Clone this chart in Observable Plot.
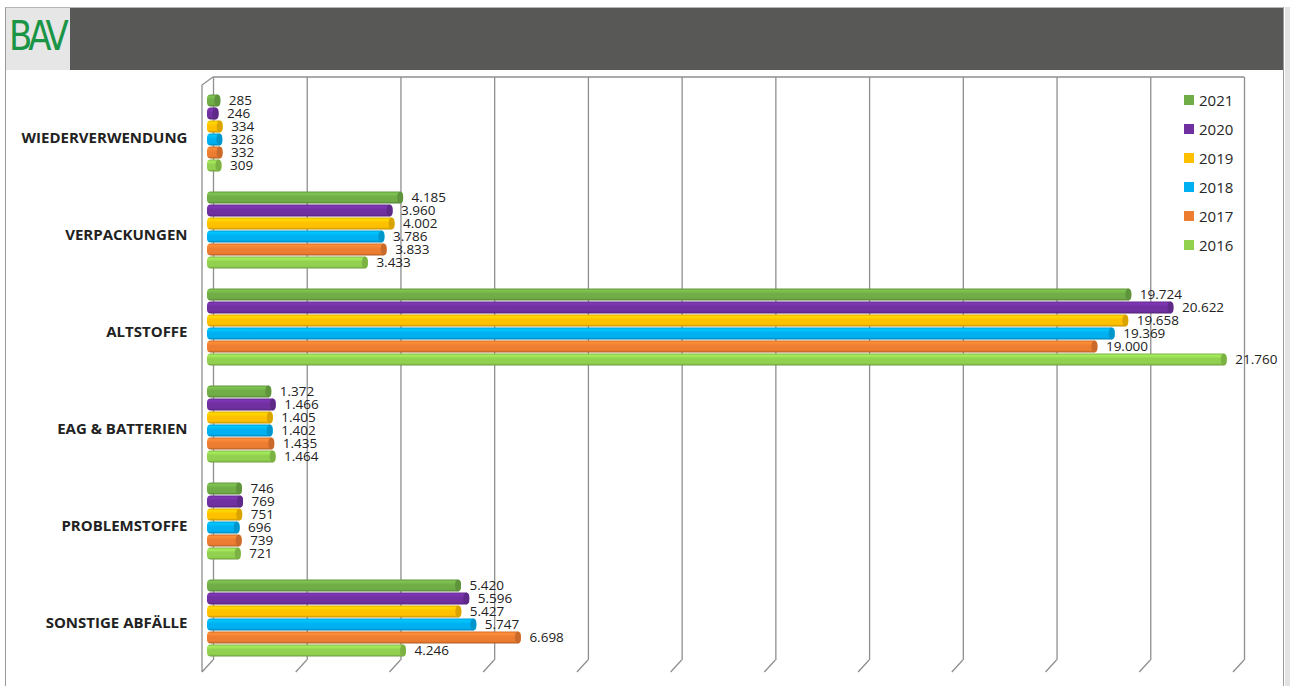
<!DOCTYPE html>
<html><head><meta charset="utf-8">
<script src="https://cdn.jsdelivr.net/npm/d3@7"></script>
<script src="https://cdn.jsdelivr.net/npm/@observablehq/plot@0.6"></script>
<style>
body{margin:0;background:#fff;font-family:"Open Sans",sans-serif;}
#wrap{position:relative;width:1290px;height:686px;overflow:hidden;background:#fff;}
#border{position:absolute;left:5px;top:7px;width:1277px;height:700px;border-left:1.5px solid #9a9a9a;border-top:1.5px solid #b5b5b5;border-right:1.5px solid #9a9a9a;}
#rband{position:absolute;left:1285px;top:7px;width:5px;height:686px;background:#e3e3e3;}
#header{position:absolute;left:6px;top:8px;width:1277px;height:62px;background:#585857;}
#logo{position:absolute;left:6px;top:8px;width:64px;height:62px;background:#e6e6e6;overflow:hidden;}
#logo span{position:absolute;left:3px;top:4px;font-family:"DejaVu Sans",sans-serif;font-size:34px;color:#1a9445;letter-spacing:-4px;transform:scaleY(1.2);transform-origin:0 0;}
.layer{position:absolute;left:0;top:70px;}
#legend{position:absolute;left:1184px;top:85px;}
#legend .row{display:flex;align-items:center;height:29px;}
#legend .sw{width:10px;height:10px;margin-right:5px;}
#legend .lb{font-size:15px;color:#262626;font-family:"Open Sans",sans-serif;}
</style>
</head><body>
<div id="wrap">
  <div id="border"></div>
  <div id="rband"></div>
  <div id="header"></div>
  <div id="logo"><span>BAV</span></div>
  <div id="l1" class="layer"></div>
  <div id="l2" class="layer"></div>
  <div id="legend"></div>
</div>
<script>
const categories = ["WIEDERVERWENDUNG","VERPACKUNGEN","ALTSTOFFE","EAG & BATTERIEN","PROBLEMSTOFFE","SONSTIGE ABFÄLLE"];
const years = ["2021","2020","2019","2018","2017","2016"];
const colors = ["#70AD47","#7030A0","#FFC000","#00B0F0","#ED7D31","#92D050"];
const v2021 = [285, 4185, 19724, 1372, 746, 5420];
const v2020 = [246, 3960, 20622, 1466, 769, 5596];
const v2019 = [334, 4002, 19658, 1405, 751, 5427];
const v2018 = [326, 3786, 19369, 1402, 696, 5747];
const v2017 = [332, 3833, 19000, 1435, 739, 6698];
const v2016 = [309, 3433, 21760, 1464, 721, 4246];
const gridTicks = [0,2000,4000,6000,8000,10000,12000,14000,16000,18000,20000,22000];

const series = [v2021, v2020, v2019, v2018, v2017, v2016];
const data = [];
categories.forEach((c, i) => years.forEach((y, j) => data.push({category: c, year: y, value: series[j][i]})));

const fmt = d3.formatLocale({decimal: ",", thousands: ".", grouping: [3], currency: ["", "€"]}).format(",");

// Layer 1: 3D wall / grid
function frameMark(index, scales, values, dims) {
  const x = scales.x;
  const top = dims.marginTop, bot = dims.height - dims.marginBottom;
  const back = 6, front = -5, depth = 12;
  const x0 = x(gridTicks[0]), x1 = x(gridTicks[gridTicks.length - 1]);
  let d = `M${x0 + back},${top}H${x1 + back}`;
  d += `M${x0 + back},${top}L${x0 + front},${top + 8}V${bot + depth}`;
  for (const t of gridTicks) d += `M${x(t) + back},${bot}L${x(t) + front},${bot + depth}`;
  const g = d3.create("svg:g");
  g.append("path").attr("d", d).attr("fill", "none").attr("stroke", "#8f8f8f").attr("stroke-width", 1.3);
  return g.node();
}
const frame = Plot.plot({
  width: 1290, height: 616,
  marginLeft: 207, marginRight: 52, marginTop: 7, marginBottom: 26,
  x: {domain: [0, 22000], axis: null},
  style: {background: "transparent"},
  marks: [
    Plot.ruleX(gridTicks, {x: d => d, dx: 6, stroke: "#8f8f8f", strokeWidth: 1.3}),
    frameMark
  ]
});
document.getElementById("l1").append(frame);

// Layer 2: bars
const chart = Plot.plot({
  width: 1290, height: 616,
  marginLeft: 207, marginRight: 52, marginTop: 12.6, marginBottom: 16.6,
  x: {domain: [0, 22000], axis: null},
  y: {domain: years, axis: null, paddingInner: 0.05, paddingOuter: 0.73},
  fy: {domain: categories, axis: null, padding: 0},
  color: {domain: years, range: colors},
  facet: {data, y: "category"},
  style: {background: "transparent", fontFamily: "Open Sans, sans-serif"},
  marks: [
    Plot.barX(data, {x: "value", y: "year", fill: "year", rx: 4}),
    Plot.text(data, {x: "value", y: "year", text: d => fmt(d.value), textAnchor: "start", dx: 8, fontSize: 13.5, fill: "#222"}),
    Plot.text(data, {filter: d => d.year === "2021", text: "category", frameAnchor: "left", textAnchor: "end", dx: -20, dy: 4, fontWeight: "bold", fontSize: 15, letterSpacing: 0.3, fill: "#222"})
  ]
});
document.getElementById("l2").append(chart);

// cylinder shading
const svg = d3.select(chart);
const defs = svg.insert("defs", ":first-child");
colors.forEach((c, i) => {
  const base = d3.color(c);
  const gr = defs.append("linearGradient").attr("id", "cyl" + i).attr("x1", 0).attr("y1", 0).attr("x2", 0).attr("y2", 1);
  [[0, base.darker(0.4)], [0.18, base.brighter(0.35)], [0.45, base], [0.82, base], [1, base.darker(0.8)]]
    .forEach(([o, col]) => gr.append("stop").attr("offset", o).attr("stop-color", col.formatHex()));
});
svg.selectAll('g[aria-label="bar"] rect').each(function() {
  const f = (this.getAttribute("fill") || "").toUpperCase();
  const i = colors.indexOf(f);
  if (i < 0) return;
  this.setAttribute("fill", `url(#cyl${i})`);
  const x = +this.getAttribute("x"), y = +this.getAttribute("y"), w = +this.getAttribute("width"), h = +this.getAttribute("height");
  const cap = document.createElementNS("http://www.w3.org/2000/svg", "ellipse");
  cap.setAttribute("cx", x + w - 3);
  cap.setAttribute("cy", y + h / 2);
  cap.setAttribute("rx", 3);
  cap.setAttribute("ry", h / 2);
  cap.setAttribute("fill", d3.color(colors[i]).darker(0.45).formatHex());
  this.after(cap);
});

// legend
const lg = d3.select("#legend");
years.forEach((y, i) => {
  const r = lg.append("div").attr("class", "row");
  r.append("div").attr("class", "sw").style("background", colors[i]);
  r.append("div").attr("class", "lb").text(y);
});
</script>
</body></html>
